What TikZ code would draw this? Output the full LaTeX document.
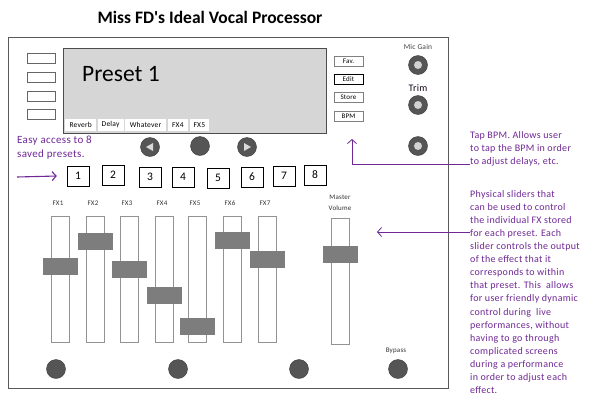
\documentclass[tikz,border=0pt]{standalone}
\usepackage{fontspec}
\setmainfont{Carlito}
\newfontfamily\spacedfont[LetterSpace=3]{Carlito}
\usetikzlibrary{arrows.meta,positioning}
\definecolor{notepurple}{RGB}{112,40,150}
\definecolor{knobgray}{RGB}{85,85,85}
\definecolor{screengray}{RGB}{214,214,214}
\definecolor{handlegray}{RGB}{125,125,125}
\tikzset{
  sidebtn/.style={draw=gray!80!black, minimum width=28pt, minimum height=10pt, inner sep=0pt},
  menubtn/.style={draw=gray, font=\spacedfont\fontsize{7}{8}\selectfont, minimum width=29pt, minimum height=10pt, inner sep=0pt},
  tabname/.style={fill=white, font=\spacedfont\fontsize{7.5}{8}\selectfont, inner sep=0pt, minimum height=12pt},
  knob/.style={circle, draw=knobgray!70!black, fill=knobgray, minimum size=19pt, inner sep=0pt},
  numbox/.style={draw=black, minimum width=22pt, minimum height=20pt, inner sep=0pt, font=\fontsize{11.5}{12}\selectfont},
  track/.style={draw=gray!85, fill=white, minimum width=18pt, minimum height=126pt, inner sep=0pt},
  handle/.style={fill=handlegray, minimum width=35pt, minimum height=17pt, inner sep=0pt},
  fxname/.style={font=\spacedfont\fontsize{7}{8}\selectfont, text=black!80},
  note/.style={text=notepurple, font=\spacedfont\fontsize{10}{13.1}\selectfont, align=left, anchor=north west, inner sep=0pt},
  tip/.style={draw=notepurple, thick, -{Straight Barb[length=4pt,width=9pt]}}
}
\begin{document}
\begin{tikzpicture}[x=1pt,y=-1pt]
\fill[white] (0,0) rectangle (600,405);
\useasboundingbox (0,0) rectangle (600,405);

\node[font=\fontsize{17.5}{20}\selectfont\bfseries] (title) at (210,17) {Miss FD\textquotesingle s Ideal Vocal Processor};

% unit body and display
\draw[gray!70!black, thick] (8,37) rectangle (448,388);
\draw[draw=gray!60!black, fill=screengray] (63,48) rectangle (326,133);
\node[anchor=base west, font=\fontsize{23.5}{26}\selectfont, inner sep=0pt] (preset) at (82,81) {Preset 1};

% tabs along the bottom of the display
\node[tabname, anchor=south west, minimum width=31pt] (tabA) at (65,131) {Reverb};
\node[tabname, right=1pt of tabA, minimum width=26pt] (tabB) {Delay};
\node[tabname, right=1pt of tabB, minimum width=41pt] (tabC) {Whatever};
\node[tabname, right=1.5pt of tabC, minimum width=20pt] (tabD) {FX4};
\node[tabname, right=1.5pt of tabD, minimum width=19pt] (tabE) {FX5};

% side buttons
\foreach \y [count=\i] in {58,77,96,114}
  \node[sidebtn] (side\i) at (41,\y) {};

\node[menubtn] (fav) at (348.5,61) {Fav.};
\node[menubtn, draw=black] (edit) at (348.5,79) {Edit};
\node[menubtn] (store) at (348.5,97) {Store};
\node[menubtn] (bpm) at (348.5,116) {BPM};

% gain knobs
\node[font=\spacedfont\fontsize{7.5}{8}\selectfont, text=black!75] (micgain) at (418,47) {Mic Gain};
\node[font=\spacedfont\fontsize{10}{11}\selectfont, text=black!85!notepurple] (trim) at (418,88) {Trim};
\foreach \y [count=\i] in {65,105,146} {
  \node[knob] (gain\i) at (418,\y) {};
  \fill[gray!35] (gain\i.center) circle (4pt);
}

% navigation
\node[knob] (navL) at (150,147) {};
\node[knob] (navM) at (200,146) {};
\node[knob] (navR) at (247,147) {};
\fill[gray!30] ([xshift=-4pt]navL.center) -- ([xshift=3pt,yshift=4pt]navL.center) -- ([xshift=3pt,yshift=-4pt]navL.center) -- cycle;
\fill[gray!30] ([xshift=4pt]navR.center) -- ([xshift=-3pt,yshift=4pt]navR.center) -- ([xshift=-3pt,yshift=-4pt]navR.center) -- cycle;

% presets
\foreach \x/\y [count=\i] in {78/176,113/175,150/177,183/177,218/178,252/177,284/176,315/175}
  \node[numbox] (pre\i) at (\x,\y) {\i};

% FX sliders
\foreach \x/\h [count=\i] in {60/266.5,95/241.5,129/269,164/295,197/326.5,232/240.5,267/259.5} {
  \node[fxname] (fxname\i) at (\x-2,203) {FX\i};
  \node[track] (fx\i) at (\x,279) {};
  \node[handle] (knobfx\i) at (\x,\h) {};
}
\node[fxname, align=center, font=\spacedfont\fontsize{7}{11}\selectfont] (mastername) at (340,203) {Master\\Volume};
\node[track] (mvol) at (340,281) {};
\node[handle] (knobmvol) at (340,254) {};

% foot switches
\foreach \x [count=\i] in {56,178,299,398}
  \node[knob] (foot\i) at (\x,369) {};
\node[fxname] (bypass) at (396,351) {Bypass};

% notes
\node[note, font=\spacedfont\fontsize{11}{14}\selectfont] (presetnote) at (17,136) {Easy access to 8\\saved presets.};
\node[note] (bpmnote) at (470,131) {Tap BPM. Allows user\\to tap the BPM in order\\to adjust delays, etc.};
\node[note] (fxnote) at (470,190) {Physical sliders that\\can be used to control\\the individual FX stored\\for each preset. Each\\slider controls the output\\of the effect that it\\corresponds to within\\that preset. This~ allows\\for user friendly dynamic\\control during~ live\\performances, without\\having to go through\\complicated screens\\during a performance\\in order to adjust each\\effect.};

\coordinate (presettail) at (17,177);
\coordinate (bpmtail) at (470,164);
\coordinate (bpmtip) at (352,139);
\coordinate (fxtail) at (470,232);
\coordinate (fxtip) at (377,232);
\draw[tip, line width=1.1pt] (presettail) -- ([xshift=-10pt]pre1.west);
\draw[tip] (bpmtail) -| (bpmtip);
\draw[tip] (fxtail) -- (fxtip);
\end{tikzpicture}
\end{document}
